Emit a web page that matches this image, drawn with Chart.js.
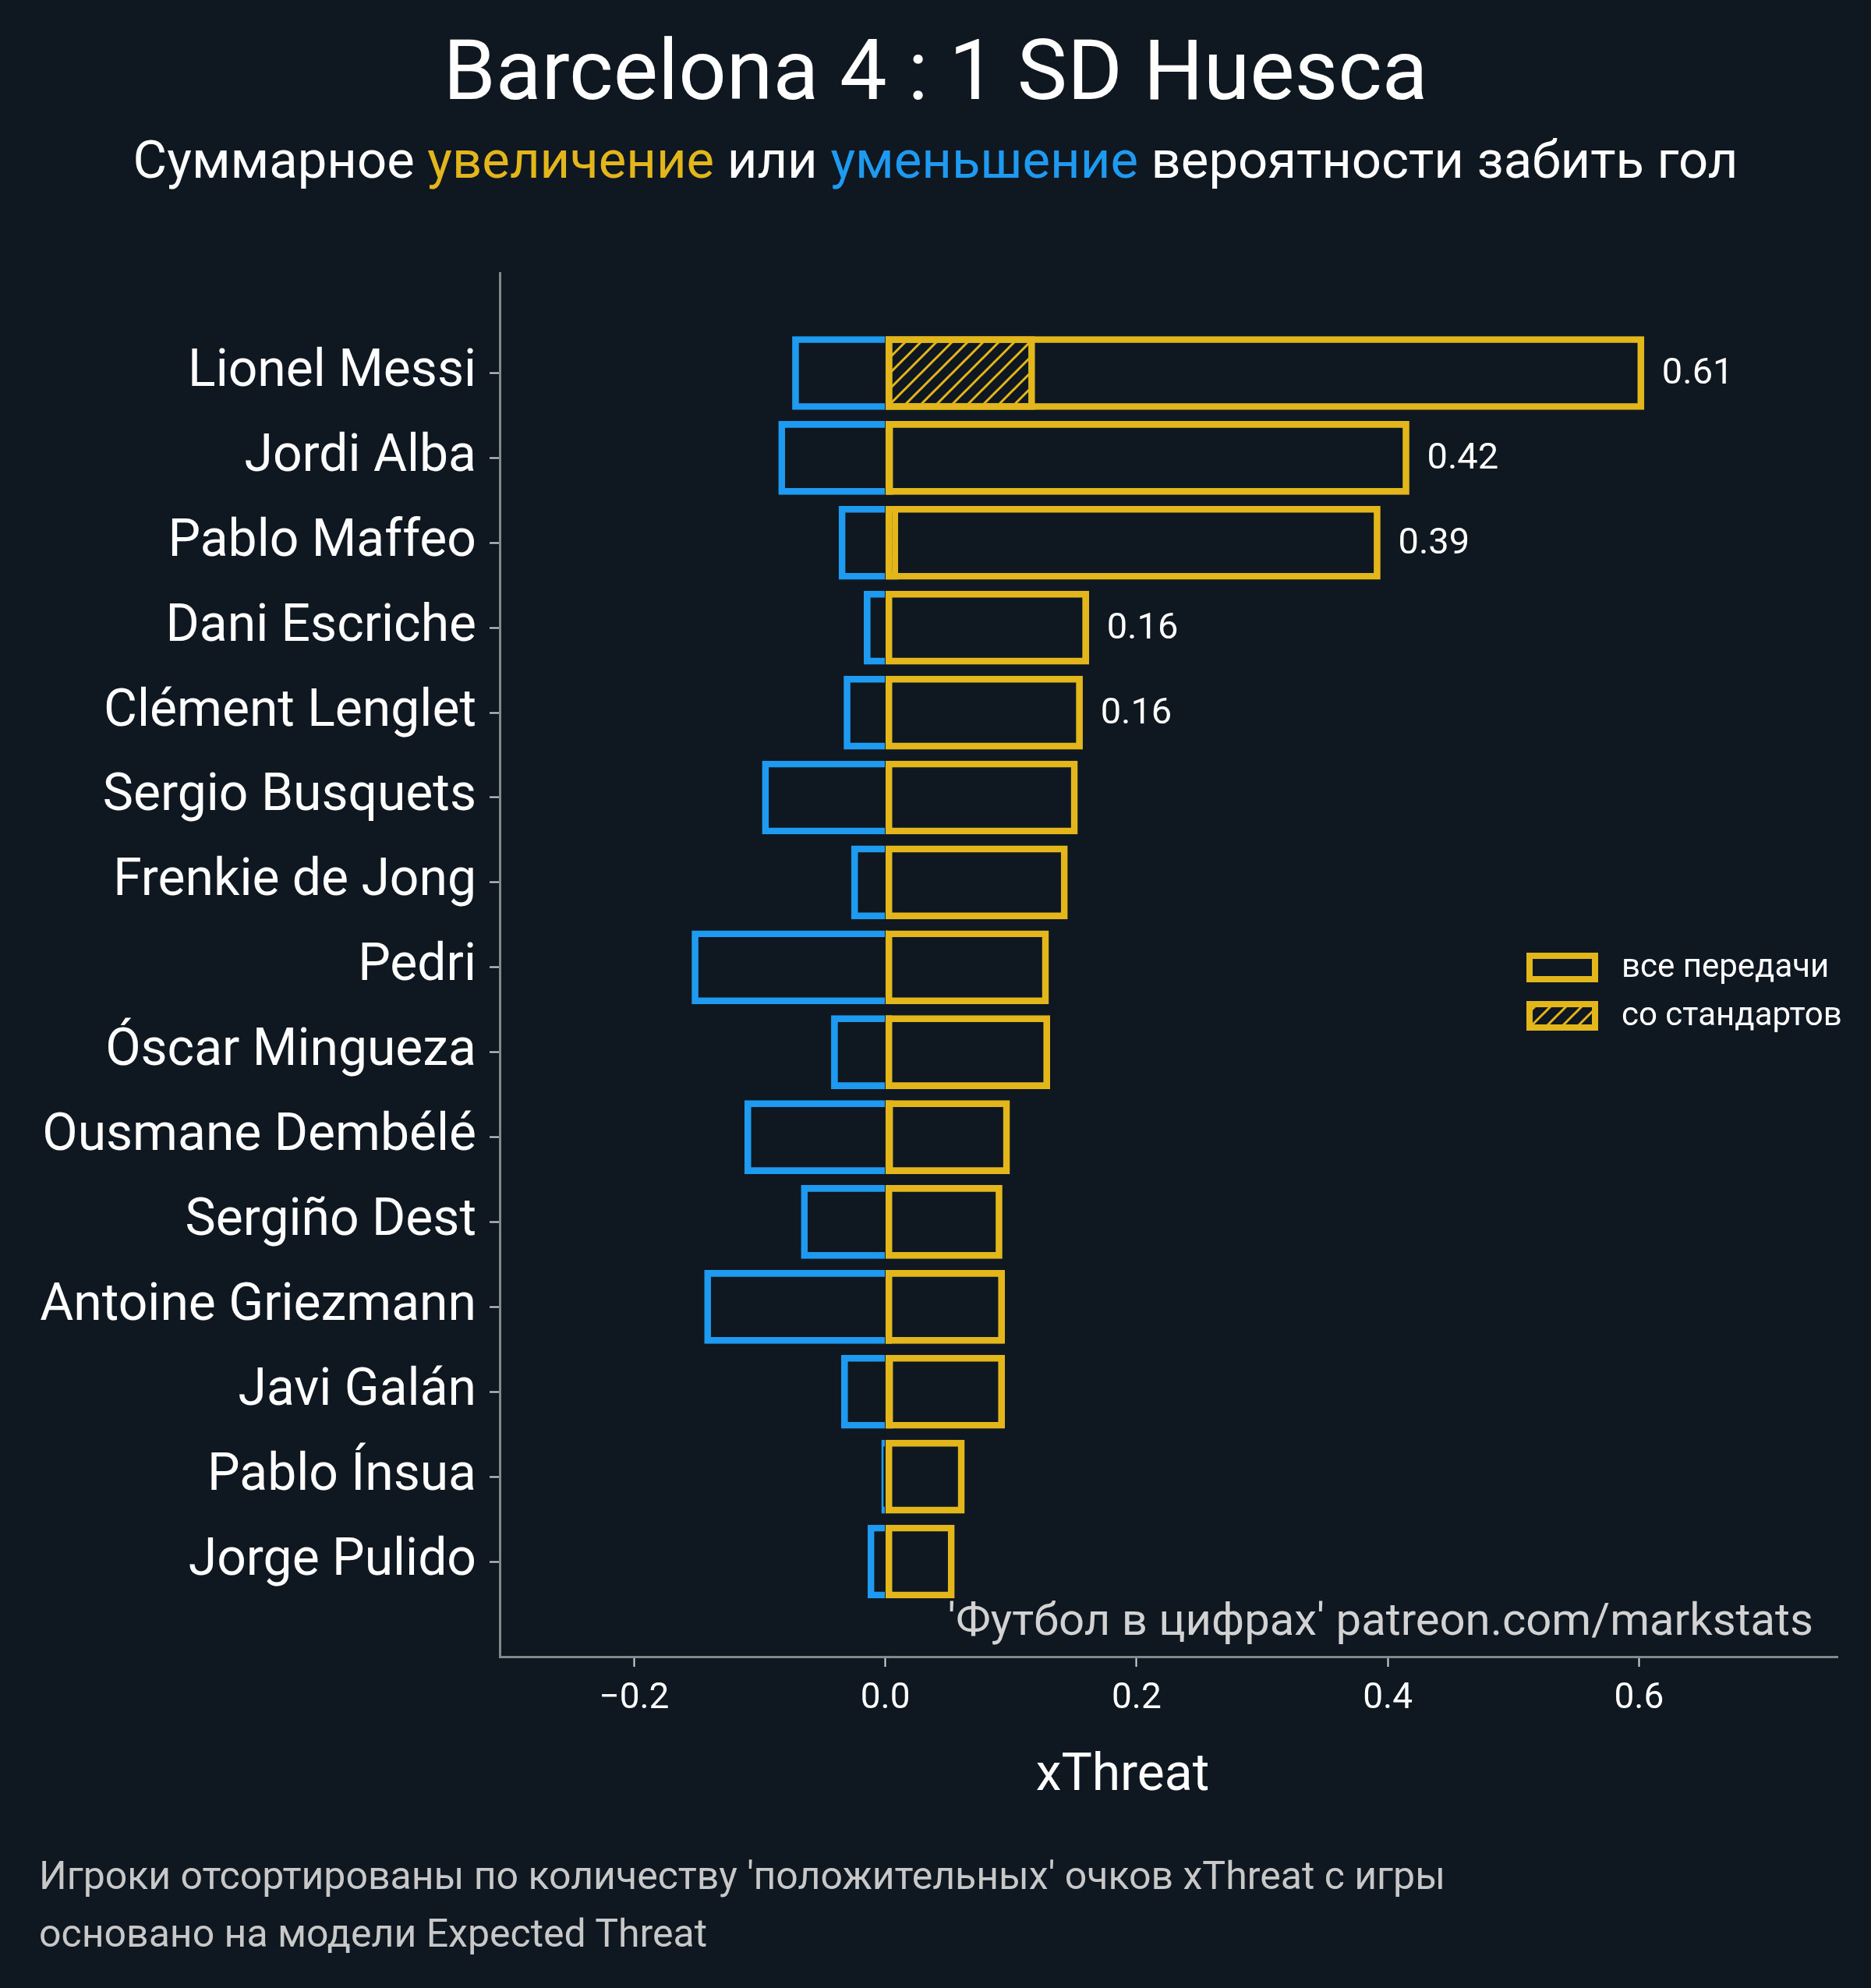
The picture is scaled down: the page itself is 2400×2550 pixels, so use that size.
<!DOCTYPE html>
<html>
<head>
<meta charset="utf-8">
<script src="https://cdn.jsdelivr.net/npm/chart.js@4/dist/chart.umd.min.js"></script>
<style>
  html, body { margin: 0; padding: 0; background: #0f1821; }
  #wrap { position: relative; width: 2400px; height: 2550px; font-family: Roboto, sans-serif; }
  #c { position: absolute; left: 0; top: 0; }
  .t { position: absolute; line-height: 1; white-space: nowrap; }
  #title { left: 0; width: 2400px; text-align: center; top: 36px; font-size: 108px; color: #fff; }
  #subtitle { left: 0; width: 2400px; text-align: center; top: 172px; font-size: 67px; color: #fff; }
  #xlabel { left: 1240px; width: 400px; text-align: center; top: 2241px; font-size: 66px; color: #fff; }
  #mark { right: 74px; top: 2048px; font-size: 58px; color: #d2d2d2; }
  .note { left: 50px; font-size: 50px; color: #c8c8c8; }
  .yel { color: #e3b61b; }
  .blu { color: #1e9bf0; }
</style>
</head>
<body>
<div id="wrap">
  <canvas id="c" width="2400" height="2550"></canvas>
  <div class="t" id="title">Barcelona 4 : 1 SD Huesca</div>
  <div class="t" id="subtitle">Суммарное <span class="yel">увеличение</span> или <span class="blu">уменьшение</span> вероятности забить гол</div>
  <div class="t" id="xlabel">xThreat</div>
  <div class="t" id="mark">'Футбол в цифрах' patreon.com/markstats</div>
  <div class="t note" style="top:2381px">Игроки отсортированы по количеству 'положительных' очков xThreat с игры</div>
  <div class="t note" style="top:2455px">основано на модели Expected Threat</div>
</div>
<script>
// data
var players = ['Lionel Messi', 'Jordi Alba', 'Pablo Maffeo', 'Dani Escriche', 'Clément Lenglet',
  'Sergio Busquets', 'Frenkie de Jong', 'Pedri', 'Óscar Mingueza', 'Ousmane Dembélé',
  'Sergiño Dest', 'Antoine Griezmann', 'Javi Galán', 'Pablo Ínsua', 'Jorge Pulido'];
var negative = [-0.074, -0.085, -0.037, -0.017, -0.033, -0.098, -0.027, -0.154, -0.043, -0.112, -0.067, -0.144, -0.035, -0.003, -0.014];
var positive = [0.604, 0.417, 0.394, 0.162, 0.157, 0.153, 0.145, 0.130, 0.131, 0.099, 0.093, 0.095, 0.095, 0.063, 0.055];
var setPieces = [0.119, 0.006, 0.010, 0, 0, 0, 0, 0.002, 0.005, 0.006, 0, 0.005, 0.006, 0, 0];
var valueLabels = ['0.61', '0.42', '0.39', '0.16', '0.16'];
var xTickValues = [-0.2, 0, 0.2, 0.4, 0.6];
var xTickLabels = ['\u22120.2', '0.0', '0.2', '0.4', '0.6'];
var legendLabels = ['все передачи', 'со стандартов'];

var YEL = '#e3b61b';
var BLU = '#1e9bf0';
var FONT = 'Roboto';

// hatch "///"
function makeHatch() {
  var c = document.createElement('canvas');
  c.width = 20; c.height = 20;
  var g = c.getContext('2d');
  g.strokeStyle = YEL;
  g.lineWidth = 3;
  g.beginPath();
  g.moveTo(-10, 10); g.lineTo(10, -10);
  g.moveTo(0, 20); g.lineTo(20, 0);
  g.moveTo(10, 30); g.lineTo(30, 10);
  g.stroke();
  return document.getElementById('c').getContext('2d').createPattern(c, 'repeat');
}
var hatch = makeHatch();

function pts(arr) {
  return arr.map(function (v, i) { return { x: v === 0 ? null : v, y: i }; });
}

var extras = {
  id: 'extras',
  afterDatasetsDraw: function (chart) {
    var ctx = chart.ctx;
    var xs = chart.scales.x, ys = chart.scales.y;
    ctx.save();
    ctx.fillStyle = '#fff';
    ctx.font = '47px ' + FONT;
    ctx.textBaseline = 'middle';
    valueLabels.forEach(function (t, i) {
      ctx.fillText(t, xs.getPixelForValue(positive[i]) + 23, ys.getPixelForValue(i) + 2);
    });
    // legend
    var lx = 1962, ly = [1226, 1288], w = 84, h = 30;
    ctx.lineWidth = 8;
    ctx.strokeStyle = YEL;
    ctx.font = '42px ' + FONT;
    for (var k = 0; k < 2; k++) {
      if (k === 1) { ctx.fillStyle = hatch; ctx.fillRect(lx, ly[k], w, h); }
      ctx.strokeRect(lx, ly[k], w, h);
      ctx.fillStyle = '#fff';
      ctx.fillText(legendLabels[k], 2080, ly[k] + h / 2 + 1);
    }
    ctx.restore();
  }
};

new Chart(document.getElementById('c'), {
  type: 'bar',
  data: {
    datasets: [
      { label: 'neg', data: pts(negative), borderColor: BLU, backgroundColor: 'rgba(0,0,0,0)',
        borderWidth: 8, borderSkipped: 'start', order: 3 },
      { label: legendLabels[0], data: pts(positive), borderColor: YEL, backgroundColor: 'rgba(0,0,0,0)',
        borderWidth: 8, borderSkipped: false, order: 2 },
      { label: legendLabels[1], data: pts(setPieces), borderColor: YEL, backgroundColor: hatch,
        borderWidth: 8, borderSkipped: false, order: 1 }
    ]
  },
  options: {
    indexAxis: 'y',
    responsive: false,
    devicePixelRatio: 1,
    animation: false,
    grouped: false,
    barThickness: 94,
    layout: { padding: { top: 350, right: 43, left: 0, bottom: 0 } },
    plugins: { legend: { display: false }, tooltip: { enabled: false } },
    scales: {
      y: {
        type: 'linear', reverse: true, min: -1.18, max: 15.12, offset: false,
        afterBuildTicks: function (s) { s.ticks = players.map(function (p, i) { return { value: i }; }); },
        afterFit: function (s) { s.width = 641; },
        ticks: { callback: function (v) { return players[v]; }, color: '#fff', font: { family: FONT, size: 66 }, padding: 17 },
        grid: { offset: false, drawOnChartArea: false, drawTicks: true, tickLength: 13, tickColor: '#d8d8d8', tickWidth: 2 },
        border: { display: true, color: '#7e8b8a', width: 3 }
      },
      x: {
        type: 'linear', min: -0.307, max: 0.758,
        afterBuildTicks: function (s) { s.ticks = xTickValues.map(function (v) { return { value: v }; }); },
        afterFit: function (s) { s.height = 425; },
        ticks: { callback: function (v, i) { return xTickLabels[i]; }, color: '#fff', font: { family: FONT, size: 46 }, padding: 14, maxRotation: 0 },
        grid: { drawOnChartArea: false, drawTicks: true, tickLength: 13, tickColor: '#d8d8d8', tickWidth: 2 },
        border: { display: true, color: '#7e8b8a', width: 3 }
      }
    }
  },
  plugins: [extras]
});
</script>
</body>
</html>
